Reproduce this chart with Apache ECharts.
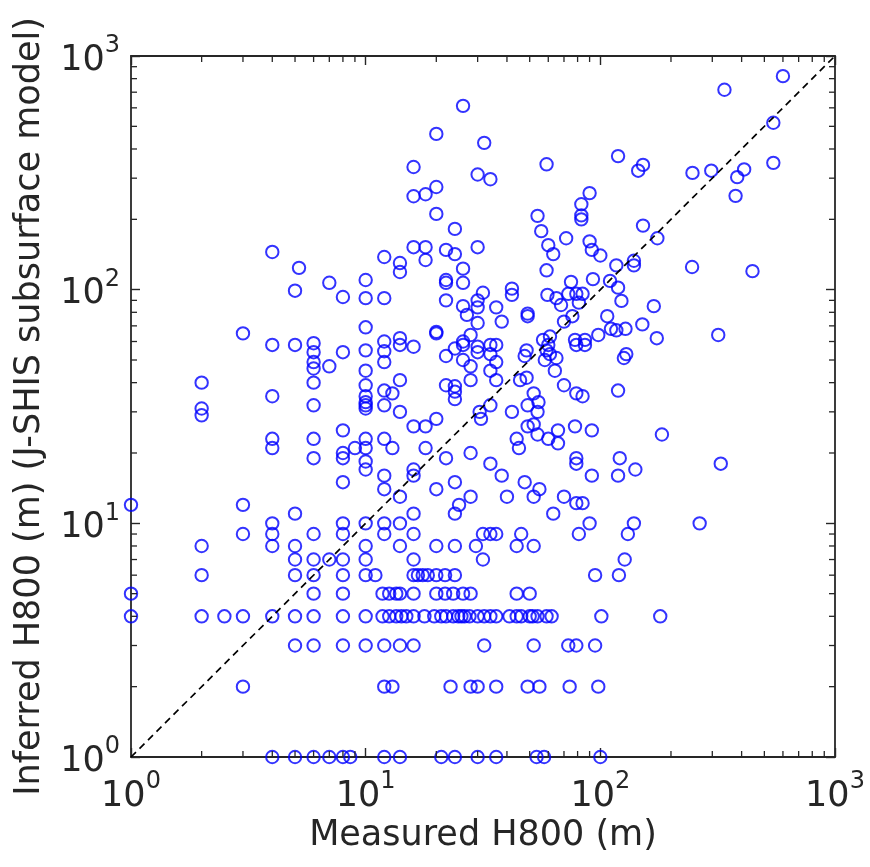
<!DOCTYPE html>
<html>
<head>
<meta charset="utf-8">
<script src="https://cdn.jsdelivr.net/npm/echarts@6/dist/echarts.min.js"></script>
<style>
  html, body { margin: 0; padding: 0; background: #ffffff; }
  #chart { width: 870px; height: 867px; }
</style>
</head>
<body>
<div id="chart"></div>
<script>
// Measured vs inferred H800 (m), pairs of [measured, inferred]
// Inferred values up to 10 m
const pointsLow = [
  [4,1],[5,1],[6,1],[7,1],[8,1],[8.6,1],[12,1],[14,1],[21,1],[24,1],[30,1],[36,1],[53.5,1],[57.6,1],[100,1],
  [3,2],[12,2],[13,2],[23,2],[28,2],[30,2],[36,2],[49,2],[55,2],[74,2],[98,2],
  [5,3],[6,3],[8,3],[10,3],[12,3],[14,3],[16,3],[32,3],[52,3],[73,3],[79,3],[95,3],
  [1,4],[2,4],[2.5,4],[3,4],[4,4],[5,4],[6,4],[8,4],[10,4],[11.8,4],[12.6,4],[13.5,4],[14.2,4],[14.9,4],
  [16,4],[17.8,4],[19.6,4],[21,4],[22,4],[23.6,4],[24.8,4],[25.6,4],[26.4,4],[27.7,4],[30,4],[32,4],
  [34,4],[36,4],[41,4],[44,4],[46,4],[50,4],[51.5,4],[54,4],[59,4],[62,4],[101,4],[180,4],
  [1,5],[6,5],[8,5],[11.8,5],[12.6,5],[13.5,5],[14,5],[16,5],[20,5],[21.8,5],[23.6,5],[26,5],[28,5],[44,5],[50,5],
  [2,6],[5,6],[6,6],[8,6],[10,6],[11,6],[16,6],[16.7,6],[17.5,6],[18.4,6],[20,6],[21.8,6],[24,6],[95,6],[120,6],
  [5,7],[6,7],[7,7],[8,7],[10,7],[16,7],[31.6,7],[127,7],
  [2,8],[4,8],[5,8],[10,8],[14,8],[20,8],[24,8],[29.5,8],[44,8],[52,8],
  [3,9],[4,9],[6,9],[8,9],[12,9],[16,9],[31.6,9],[34,9],[36,9],[46,9],[81,9],[131,9],
  [4,10],[8,10],[10,10],[12,10],[14,10],[90,10],[139,10],[265,10]
];

// Inferred values between 10 and 100 m
const pointsMid = [
  [5,11],[16,11],[24,11],[63,11],
  [1,12],[3,12],[25,12],[79,12.2],[84,12.2],
  [14,13],[28,13],[40,13],[52,13],[70,13],
  [12,14],[20,14],[55,14],
  [8,15],[24,15],[47.6,15],
  [12,16],[16,16],[38,16],[92,16],[119,16],
  [10,17],[16,17],[141,17],
  [10,18.4],[34,18],[79,18],[326,18],
  [6,19],[8,19],[22,19],[79,19],[121,19],
  [8,20],[28,20],
  [4,21],[9,21],[10,21],[13,21],[18,21],[45,21],
  [66,22],
  [4,23],[6,23],[10,23],[12,23],[44,23],[60,23],
  [54,24],[183,24],
  [8,25],[66,25],[92,25],
  [16,26],[18,26],[49,26],[52,26.5],[78,26],
  [20,28],[31,28],
  [2,29],
  [14,30],[30.6,30],[42,30],[54,30],
  [2,31],[10,31],
  [6,32],[10,32],[12,32],[34,32],[49,32],
  [10,33],[54.5,33],
  [24,34],
  [4,35],[10,35],[84,35],
  [13,36],[24,36.6],[52,36],[79,36],
  [12,37],[119,37],
  [10,39],[22,39],[24,38.6],[70,39],
  [2,40],[6,40],
  [14,41],[28,41],[36,41],[45.5,41],
  [48.5,42],
  [10,45],[34,45],[64,45],
  [6,46],
  [7,47],[28,47],
  [6,49],[12,49],[36,49],
  [26,50],[58,50],
  [65,51],[126,51],
  [22,52],[47.6,52],
  [34,53],[61,53],[129,53],
  [6,54],[8,54],[12,54.5],[30,54],
  [10,55],[48.5,55],[59,55],
  [24,56],
  [16,57],[30,57],
  [4,58],[5,58],[14,58],[26,58],[34,58],[36,58],[60,58],[79,58],[86,58],
  [6,59],
  [12,60],[26,60],
  [57,61],[78,61],[86,61],
  [14,62],[174,62],
  [61,63],
  [28,64],[98,64],[318,64],
  [3,65],[20,65],[20,66],
  [111,68],[117,67],[128,68],
  [10,69],
  [151,71],
  [30,72],
  [38,73],[70,73],
  [49,77],[76,77],[107,77],
  [27,78],
  [49,79],
  [30,84],[36,84],
  [26,85],[169,85],
  [68,86],
  [81,88],
  [123,89.5],
  [22,90],[30,90],
  [10,92],[12,92],[65,92],
  [8,93],
  [42,95],[59.5,95],
  [73,96],[79,96],[84,96],
  [31.6,97],
  [5,99]
];

// Inferred values above 100 m
const pointsHigh = [
  [42,101],[119,102],[7,107],[22,107],[26,107],[75,108],[110,109],[10,110],[22,110],[93,111],
  [14,119],[445,120],[59,121],[26,123],[5.2,124],[246,125],[117,127],[139,127],[14,130],[139,133],
  [18,134],[12,138],[100,140],[24,142],[63,142],[4,145],[22,148],[92,148],[16,152],[18,152],
  [30,152],[60,155],[90,161],[71.5,166],[175,166],[56,178],[24,182],[152,188],[83,200],[54,207],
  [83,208],[20,211],[83,232],[16,251],[377,252],[18,256],[90,259],[20,275],[34,297],[383,303],
  [30,311],[247,316],[145,323],[297,323],[410,327],[16,335],[152,342],[59,344],[546,349],[119,373],
  [32,425],[20,464],[546,518],[26,612],[338,717],[600,820]
];

// 1:1 reference line
const oneToOne = [[1,1],[1000,1000]];

// Axis range and minor tick positions (log decades)
const axisMin = 1, axisMax = 1000;
const minorTickValues = [2,3,4,5,6,7,8,9,20,30,40,50,60,70,80,90,200,300,400,500,600,700,800,900];

const textColor = '#262626';
const font = 'DejaVu Sans';

const powerLabel = v => '{b|10}{e|' + Math.round(Math.log10(v)) + '}';
const labelRich = {
  b: { fontSize: 35, fontFamily: font, color: textColor, verticalAlign: 'bottom', lineHeight: 44 },
  e: { fontSize: 24, fontFamily: font, color: textColor, verticalAlign: 'top', lineHeight: 44 }
};

const axisLineStyle = { color: textColor, width: 1.8 };
const majorTick = { show: true, inside: true, length: 9, lineStyle: { color: textColor, width: 1.4 } };

function frameAxis(position, withLabels, name, nameGap) {
  return {
    type: 'log', logBase: 10, min: axisMin, max: axisMax, position: position,
    axisLine: { show: true, onZero: false, lineStyle: axisLineStyle },
    axisTick: majorTick,
    splitLine: { show: false },
    minorTick: { show: false },
    axisLabel: withLabels
      ? { show: true, formatter: powerLabel, rich: labelRich, margin: position === 'bottom' ? 13 : 11 }
      : { show: false },
    name: name || '',
    nameLocation: 'middle',
    nameGap: nameGap || 0,
    nameTextStyle: { fontFamily: font, fontSize: 35, color: textColor }
  };
}

// Short minor tick marks on all four sides of the box
function renderMinorTick(params, api) {
  const v = api.value(0);
  const len = 6;
  const style = { stroke: textColor, lineWidth: 1.3 };
  const b = api.coord([v, axisMin]);
  const t = api.coord([v, axisMax]);
  const l = api.coord([axisMin, v]);
  const r = api.coord([axisMax, v]);
  return {
    type: 'group',
    children: [
      { type: 'line', shape: { x1: b[0], y1: b[1], x2: b[0], y2: b[1] - len }, style },
      { type: 'line', shape: { x1: t[0], y1: t[1], x2: t[0], y2: t[1] + len }, style },
      { type: 'line', shape: { x1: l[0], y1: l[1], x2: l[0] + len, y2: l[1] }, style },
      { type: 'line', shape: { x1: r[0], y1: r[1], x2: r[0] - len, y2: r[1] }, style }
    ]
  };
}

const circleStyle = { color: 'rgba(0,0,0,0)', borderColor: '#0000ff', borderWidth: 2 };
const scatterSeries = (data) => ({
  type: 'scatter', data: data, symbol: 'circle', symbolSize: 12.4,
  itemStyle: circleStyle, emphasis: { disabled: true }, z: 3
});

const chart = echarts.init(document.getElementById('chart'), null, { renderer: 'canvas' });
chart.setOption({
  animation: false,
  backgroundColor: '#ffffff',
  grid: { left: 131, right: 35, top: 56, bottom: 110, containLabel: false },
  xAxis: [
    frameAxis('bottom', true, 'Measured H800 (m)', 57),
    frameAxis('top', false)
  ],
  yAxis: [
    frameAxis('left', true, 'Inferred H800 (m) (J-SHIS subsurface model)', 84),
    frameAxis('right', false)
  ],
  series: [
    scatterSeries(pointsLow),
    scatterSeries(pointsMid),
    scatterSeries(pointsHigh),
    {
      type: 'line', data: oneToOne, symbol: 'none', silent: true, z: 4,
      lineStyle: { color: '#000000', width: 1.7, type: [7, 5] }
    },
    {
      type: 'custom', renderItem: renderMinorTick, silent: true, clip: false, z: 5,
      data: minorTickValues.map(v => [v, v])
    }
  ]
});
</script>
</body>
</html>
